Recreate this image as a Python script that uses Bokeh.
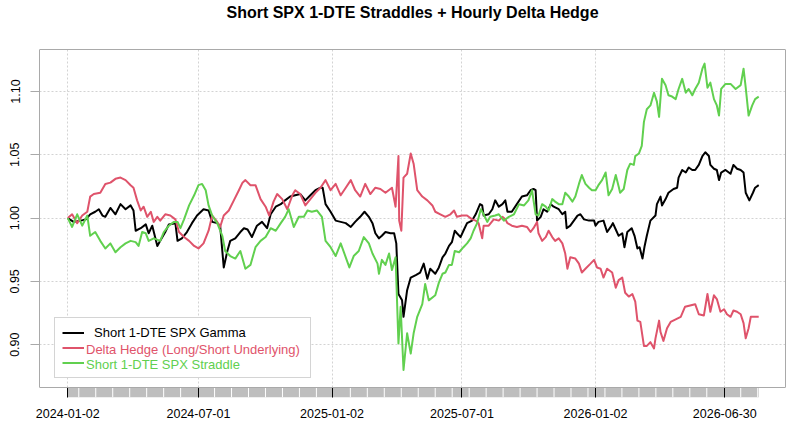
#!/usr/bin/env python3

import numpy as np
import pandas as pd
from bokeh.embed import file_html
from bokeh.models import (ColumnDataSource, DatetimeTickFormatter, FixedTicker, Label, Legend,
                          LegendItem, LinearAxis, NumeralTickFormatter, Range1d, Span)
from bokeh.plotting import figure
from bokeh.resources import INLINE


start_date = "2024-01-02"

tick_labels = ["2024-01-02", "2024-07-01", "2025-01-02",
               "2025-07-01", "2026-01-02", "2026-06-30"]
y_ticks = [0.90, 0.95, 1.00, 1.05, 1.10]

series_names = ["Short 1-DTE SPX Gamma",
                "Delta Hedge (Long/Short Underlying)",
                "Short 1-DTE SPX Straddle"]
colours = ["#000000", "#DF536B", "#61D04F"]
markers = ["circle", "triangle", "cross"]

# days after start_date / cumulative value
gamma_days = [0, 8, 18, 25, 31, 38, 43, 48, 52, 59,
              66, 73, 80, 87, 91, 94, 101, 108, 112, 117,
              124, 128, 135, 140, 149, 152, 158, 165, 172, 179,
              188, 195, 200, 207, 211, 216, 221, 225, 232, 239,
              244, 249, 255, 262, 269, 276, 281, 288, 295, 301,
              308, 315, 322, 329, 336, 343, 350, 353, 357, 364,
              371, 378, 385, 392, 398, 405, 411, 417, 422, 426,
              431, 435, 440, 447, 452, 455, 458, 463, 465, 470,
              475, 482, 488, 493, 498, 502, 509, 514, 519, 523,
              528, 532, 536, 539, 544, 548, 553, 560, 565, 571,
              574, 576, 583, 588, 592, 597, 602, 606, 609, 615,
              622, 629, 636, 641, 645, 648, 650, 655, 659, 664,
              669, 673, 680, 685, 689, 691, 696, 701, 706, 710,
              715, 722, 729, 731, 735, 742, 747, 752, 755, 759,
              763, 768, 771, 775, 781, 785, 789, 792, 796, 799,
              802, 807, 814, 816, 821, 823, 828, 832, 839, 844,
              846, 851, 856, 860, 865, 869, 874, 879, 883, 888,
              890, 895, 899, 902, 905, 911, 918, 922, 927, 932,
              936, 939, 944, 949, 952, 957]
gamma_vals = [1.000, 0.997, 0.998, 0.999, 1.003, 1.005, 1.007, 1.002, 1.001, 1.008,
              1.003, 1.011, 1.007, 1.010, 1.006, 0.990, 0.992, 0.995, 0.988, 0.994,
              0.978, 0.982, 0.989, 0.995, 0.996, 0.982, 0.984, 0.989, 0.996, 1.002,
              1.007, 1.006, 0.997, 0.996, 0.994, 0.961, 0.974, 0.982, 0.984, 0.989,
              0.992, 0.991, 0.985, 0.994, 0.997, 0.992, 1.003, 1.009, 1.011, 1.014,
              1.017, 1.018, 1.019, 1.014, 1.018, 1.022, 1.024, 1.024, 1.011, 1.005,
              0.998, 0.997, 0.996, 0.993, 0.997, 1.001, 1.005, 1.001, 0.996, 0.988,
              0.984, 0.986, 0.989, 0.988, 0.988, 0.980, 0.940, 0.935, 0.922, 0.943,
              0.953, 0.955, 0.957, 0.964, 0.952, 0.960, 0.956, 0.961, 0.969, 0.972,
              0.978, 0.981, 0.990, 0.988, 0.985, 0.990, 0.996, 0.998, 1.003, 1.011,
              1.010, 1.002, 1.003, 1.007, 1.014, 1.009, 1.011, 1.014, 1.005, 1.005,
              1.011, 1.017, 1.018, 1.022, 1.023, 1.022, 0.998, 1.001, 1.007, 1.005,
              1.011, 1.009, 1.007, 1.003, 1.005, 0.992, 0.994, 0.998, 1.002, 1.003,
              0.999, 0.998, 0.998, 0.994, 0.997, 0.998, 0.989, 0.993, 0.996, 0.991,
              0.986, 0.988, 0.977, 0.989, 0.992, 0.986, 0.976, 0.977, 0.968, 0.978,
              0.986, 0.998, 1.002, 1.011, 1.017, 1.010, 1.015, 1.020, 1.023, 1.024,
              1.032, 1.038, 1.036, 1.040, 1.038, 1.038, 1.042, 1.049, 1.052, 1.049,
              1.042, 1.039, 1.038, 1.030, 1.036, 1.038, 1.035, 1.042, 1.039, 1.038,
              1.036, 1.020, 1.014, 1.020, 1.024, 1.026]

hedge_days = [0, 6, 13, 20, 27, 31, 36, 45, 52, 59,
              66, 73, 80, 87, 91, 96, 101, 105, 110, 115,
              119, 124, 128, 135, 142, 149, 154, 161, 168, 175,
              181, 188, 195, 200, 207, 211, 216, 223, 230, 237,
              242, 246, 253, 260, 267, 274, 279, 285, 290, 297,
              304, 311, 315, 322, 329, 336, 343, 350, 357, 364,
              371, 378, 385, 392, 398, 405, 412, 419, 426, 433,
              440, 449, 454, 458, 459, 462, 465, 470, 475, 479,
              484, 491, 498, 505, 509, 516, 523, 530, 535, 539,
              546, 553, 560, 565, 569, 574, 576, 583, 590, 597,
              602, 606, 609, 615, 622, 629, 636, 641, 645, 650,
              652, 657, 662, 666, 671, 675, 680, 685, 689, 692,
              696, 703, 708, 712, 717, 724, 729, 733, 738, 742,
              747, 754, 759, 763, 768, 772, 777, 782, 786, 789,
              793, 798, 802, 807, 812, 814, 819, 821, 825, 830,
              835, 842, 849, 855, 862, 869, 874, 881, 886, 890,
              895, 899, 904, 909, 913, 918, 922, 927, 932, 936,
              939, 943, 946, 952, 957]
hedge_vals = [1.000, 1.003, 0.996, 1.002, 1.005, 1.017, 1.019, 1.020, 1.027, 1.028,
              1.031, 1.032, 1.030, 1.026, 1.024, 1.014, 1.006, 1.009, 1.001, 1.005,
              0.997, 1.001, 0.998, 1.003, 1.002, 0.999, 0.989, 0.985, 0.982, 0.978,
              0.976, 0.980, 0.990, 1.002, 0.997, 0.993, 1.002, 1.006, 1.014, 1.022,
              1.028, 1.030, 1.026, 1.026, 1.015, 1.009, 1.002, 1.013, 1.019, 1.015,
              1.007, 1.018, 1.022, 1.019, 1.010, 1.015, 1.020, 1.024, 1.030, 1.022,
              1.027, 1.018, 1.024, 1.030, 1.022, 1.017, 1.027, 1.019, 1.024, 1.023,
              1.020, 1.024, 1.009, 1.049, 0.998, 0.990, 1.032, 1.035, 1.051, 1.043,
              1.022, 1.017, 1.014, 1.010, 1.005, 1.003, 1.001, 1.003, 1.006, 1.001,
              1.002, 1.002, 0.999, 0.998, 0.996, 0.984, 0.994, 0.994, 0.999, 0.998,
              1.001, 0.999, 0.996, 0.994, 0.993, 0.994, 0.993, 0.989, 0.992, 0.997,
              0.988, 0.982, 0.985, 0.990, 0.985, 0.982, 0.984, 0.980, 0.972, 0.960,
              0.969, 0.968, 0.964, 0.957, 0.960, 0.964, 0.967, 0.961, 0.960, 0.953,
              0.960, 0.957, 0.945, 0.951, 0.953, 0.941, 0.938, 0.940, 0.934, 0.919,
              0.918, 0.899, 0.899, 0.902, 0.897, 0.905, 0.919, 0.910, 0.903, 0.913,
              0.918, 0.920, 0.922, 0.930, 0.931, 0.932, 0.924, 0.923, 0.940, 0.926,
              0.939, 0.936, 0.926, 0.928, 0.924, 0.922, 0.927, 0.926, 0.924, 0.917,
              0.905, 0.913, 0.922, 0.922, 0.922]

straddle_days = [0, 6, 13, 20, 27, 31, 38, 45, 52, 59,
                 66, 73, 80, 87, 94, 98, 103, 108, 112, 119,
                 128, 133, 140, 147, 152, 156, 161, 168, 175, 181,
                 186, 191, 195, 200, 207, 214, 218, 225, 232, 239,
                 246, 253, 260, 267, 274, 281, 288, 295, 301, 306,
                 313, 320, 327, 332, 338, 345, 352, 357, 364, 371,
                 378, 385, 390, 396, 403, 410, 417, 422, 429, 431,
                 435, 440, 445, 449, 454, 458, 461, 465, 470, 475,
                 479, 484, 491, 495, 500, 509, 514, 519, 523, 528,
                 532, 536, 542, 548, 553, 558, 562, 567, 572, 576,
                 581, 585, 592, 597, 604, 611, 618, 625, 632, 638,
                 643, 648, 652, 657, 662, 666, 671, 675, 680, 685,
                 689, 694, 699, 703, 708, 712, 717, 722, 726, 731,
                 735, 740, 745, 749, 754, 759, 763, 765, 770, 775,
                 779, 784, 786, 791, 795, 798, 802, 807, 812, 816,
                 819, 823, 828, 832, 837, 842, 846, 851, 856, 860,
                 865, 869, 874, 879, 882, 886, 890, 895, 899, 902,
                 905, 911, 918, 925, 932, 936, 939, 943, 948, 952,
                 957]
straddle_vals = [1.000, 0.993, 1.003, 0.994, 1.002, 0.986, 0.989, 0.982, 0.976, 0.980,
                 0.973, 0.977, 0.980, 0.982, 0.981, 0.978, 0.989, 0.988, 0.982, 0.984,
                 0.982, 0.989, 0.994, 0.997, 0.997, 0.992, 0.999, 1.010, 1.018, 1.026,
                 1.027, 1.022, 1.010, 1.002, 0.996, 0.986, 0.974, 0.970, 0.968, 0.974,
                 0.960, 0.963, 0.977, 0.982, 0.985, 0.992, 0.990, 0.996, 1.001, 1.007,
                 0.993, 1.001, 1.001, 1.006, 1.005, 1.006, 1.001, 0.982, 0.977, 0.970,
                 0.980, 0.969, 0.961, 0.970, 0.974, 0.985, 0.980, 0.972, 0.964, 0.956,
                 0.967, 0.963, 0.972, 0.959, 0.969, 0.901, 0.930, 0.880, 0.909, 0.893,
                 0.909, 0.922, 0.932, 0.948, 0.935, 0.939, 0.949, 0.956, 0.957, 0.963,
                 0.963, 0.974, 0.973, 0.977, 0.980, 0.984, 0.990, 0.996, 1.007, 1.003,
                 0.997, 1.001, 1.002, 1.003, 0.998, 1.001, 1.003, 1.011, 1.010, 1.014,
                 1.022, 1.003, 1.002, 1.011, 1.009, 1.006, 1.015, 1.013, 1.011, 1.011,
                 1.020, 1.017, 1.013, 1.017, 1.027, 1.034, 1.027, 1.024, 1.022, 1.022,
                 1.026, 1.030, 1.036, 1.018, 1.023, 1.034, 1.025, 1.020, 1.023, 1.038,
                 1.043, 1.042, 1.049, 1.051, 1.057, 1.076, 1.086, 1.089, 1.099, 1.092,
                 1.080, 1.110, 1.105, 1.097, 1.096, 1.094, 1.102, 1.110, 1.099, 1.102,
                 1.097, 1.102, 1.107, 1.118, 1.122, 1.103, 1.107, 1.094, 1.089, 1.081,
                 1.102, 1.106, 1.106, 1.102, 1.105, 1.118, 1.103, 1.081, 1.089, 1.094,
                 1.096]

title_text = "Short SPX 1-DTE Straddles + Hourly Delta Hedge"

FONT = "Liberation Sans"
BOX_GREY = "#A9A9A9"
BAND_GREY = "#BEBEBE"
GRID_GREY = "#D3D3D3"

# the frame fills the canvas from the top down to the bottom of the date band;
# the grey box sits inside it
Y_LO, Y_HI = 0.85826, 1.17189
BOX_LO, BOX_HI = 0.86616, 1.13318

t0 = pd.Timestamp(start_date)


def to_dates(days):
    return t0 + pd.to_timedelta(days, unit="D")


def to_ms(ts):
    return ts.value / 1e6


tick_ms = [to_ms(pd.Timestamp(t)) for t in tick_labels]

p = figure(
    width=787,
    height=422,
    title=None,
    x_axis_type="datetime",
    x_range=Range1d(t0 - pd.Timedelta(days=39.2), t0 + pd.Timedelta(days=994.1)),
    y_range=Range1d(Y_LO, Y_HI),
    output_backend="svg",
    toolbar_location=None,
    min_border_left=39,
    min_border_right=2,
    min_border_top=0,
    min_border_bottom=25,
)
p.outline_line_color = None
p.background_fill_color = "white"
p.border_fill_color = "white"

# frame is 746 x 397 px, title centred 12 px below its top
p.add_layout(Label(x=373, y=385, x_units="screen", y_units="screen", text=title_text,
                   text_align="center", text_baseline="middle", text_font=FONT,
                   text_font_size="16px", text_font_style="bold", text_color="black"))

# grey date band under the box, white separators, black ticks come from the axis
first_ms = to_ms(to_dates([gamma_days[0]])[0])
last_ms = to_ms(to_dates([gamma_days[-1]])[0])
p.quad(left=[first_ms], right=[last_ms], bottom=[Y_LO], top=[BOX_LO],
       fill_color=BAND_GREY, line_color=None)

tick_days = [(pd.Timestamp(t) - t0).days for t in tick_labels]
sep_days = [d for d in np.arange(15.2, gamma_days[-1], 23.51)
            if min(abs(d - td) for td in tick_days) > 4]
sep_ms = [to_ms(t0 + pd.Timedelta(days=float(d))) for d in sep_days]
p.segment(x0=sep_ms, y0=Y_LO, x1=sep_ms, y1=BOX_LO, line_color="white", line_width=1)

all_days = [gamma_days, hedge_days, straddle_days]
all_vals = [gamma_vals, hedge_vals, straddle_vals]

glyphs = []
for days, vals, col, mk in zip(all_days, all_vals, colours, markers):
    src = ColumnDataSource(dict(date=to_dates(days), val=vals))
    line = p.line("date", "val", source=src, line_color=col, line_width=2,
                  line_join="round")
    # marker only shown in the legend
    mark = p.scatter(x=[], y=[], marker=mk, fill_color=col, line_color=col,
                     line_width=2 if mk == "cross" else 1)
    glyphs.append([line, mark])

# box edges
p.add_layout(Span(location=BOX_LO, dimension="width", line_color=BOX_GREY, line_width=1))
p.add_layout(Span(location=BOX_HI, dimension="width", line_color=BOX_GREY, line_width=1))

xa = p.xaxis[0]
xa.ticker = FixedTicker(ticks=tick_ms)
xa.formatter = DatetimeTickFormatter(days="%Y-%m-%d", months="%Y-%m-%d", years="%Y-%m-%d")
xa.axis_line_color = None
xa.major_tick_in = 10
xa.major_tick_out = 0
xa.major_tick_line_color = "black"
xa.minor_tick_line_color = None
xa.major_label_standoff = 11
xa.major_label_text_font = FONT
xa.major_label_text_font_size = "12.5px"
xa.major_label_text_line_height = 1.0
xa.major_label_text_color = "black"

ya = p.yaxis[0]
ya.ticker = FixedTicker(ticks=y_ticks)
ya.formatter = NumeralTickFormatter(format="0.00")
ya.bounds = (BOX_LO, BOX_HI)
ya.axis_line_color = BOX_GREY
ya.major_tick_line_color = BOX_GREY
ya.major_tick_out = 9
ya.major_tick_in = 0
ya.minor_tick_line_color = None
ya.major_label_orientation = "vertical"
ya.major_label_standoff = 11
ya.major_label_text_font = FONT
ya.major_label_text_font_size = "12.5px"
ya.major_label_text_color = "black"

p.xgrid.ticker = FixedTicker(ticks=tick_ms)
p.xgrid.cross_bounds = (BOX_LO, BOX_HI)
p.ygrid.ticker = FixedTicker(ticks=y_ticks)
p.grid.grid_line_color = GRID_GREY
p.grid.grid_line_dash = "2 2"
p.grid.grid_line_width = 1

right = LinearAxis(bounds=(BOX_LO, BOX_HI), ticker=FixedTicker(ticks=[]),
                   axis_line_color=BOX_GREY, major_tick_in=0, major_tick_out=0,
                   minor_tick_in=0, minor_tick_out=0, major_label_standoff=0)
p.add_layout(right, "right")

legend_style = dict(
    padding=7, spacing=0, margin=0, label_width=209,
    glyph_width=22, glyph_height=15, label_height=15, label_standoff=10,
    label_text_font=FONT, label_text_font_size="13px", label_text_line_height=1.0,
)

# box with all three keys; only the first label is written here
box_legend = Legend(
    items=[LegendItem(label=series_names[0], renderers=glyphs[0]),
           LegendItem(label=" ", renderers=glyphs[1]),
           LegendItem(label=" ", renderers=glyphs[2])],
    location=(15, 19),
    label_text_color=colours[0],
    border_line_color=BOX_GREY,
    border_line_width=1,
    background_fill_color="white",
    background_fill_alpha=1.0,
    **legend_style,
)
p.add_layout(box_legend)

# coloured labels for rows two and three, laid out like the box legend
for row in (1, 2):
    items = []
    for i in range(3):
        blank = p.line(x=[], y=[], line_alpha=0)
        items.append(LegendItem(label=series_names[i] if i == row else " ",
                                renderers=[blank]))
    p.add_layout(Legend(
        items=items,
        location=(15, 25),
        label_text_color=colours[row],
        border_line_color=None,
        background_fill_alpha=0,
        **legend_style,
    ))

open("out.html", "w").write(file_html(p, INLINE))
